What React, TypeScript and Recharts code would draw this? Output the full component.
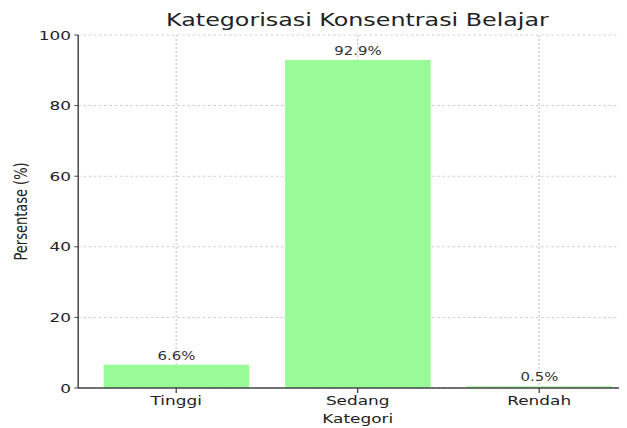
import React from 'react';
import { BarChart, Bar, XAxis, YAxis, CartesianGrid, LabelList } from 'recharts';

const categories = ['Tinggi', 'Sedang', 'Rendah'];
const percentages = [6.6, 92.9, 0.5];
const yTicks = [0, 20, 40, 60, 80, 100];

const data = categories.map((c, i) => ({ kategori: c, persen: percentages[i] }));

const FONT = '"DejaVu Sans", Verdana, sans-serif';
const SX = 1.3;
const TEXT = '#222';
const AXIS = '#444';

const YLabel = (props: any) => {
  const vb = props.viewBox || { x: 0, y: 27, width: 54, height: 353 };
  const cx = vb.x + 14.6;
  const cy = vb.y + vb.height / 2;
  return (
    <text
      x={cx}
      y={cy}
      transform={`rotate(-90 ${cx} ${cy})`}
      textAnchor="middle"
      fill={TEXT}
      fontSize={13}
      fontFamily={FONT}
    >
      Persentase (%)
    </text>
  );
};

export default function App() {
  return (
    <div style={{ width: 619, height: 420, overflow: 'hidden', position: 'relative' }}>
      <div
        style={{
          position: 'relative',
          width: 490,
          height: 420,
          transform: `scaleX(${SX})`,
          transformOrigin: '0 0',
        }}
      >
        <BarChart
          width={490}
          height={420}
          data={data}
          margin={{ top: 27, right: 6, left: 0, bottom: 0 }}
          barCategoryGap="10%"
        >
          <XAxis
            dataKey="kategori"
            height={40}
            padding={{ left: 5.6, right: 5.6 }}
            tick={{ fill: TEXT, fontSize: 13, fontFamily: FONT }}
            tickSize={5}
            tickMargin={3}
            axisLine={{ stroke: AXIS, strokeWidth: 1.3 }}
            tickLine={{ stroke: AXIS }}
            label={{ value: 'Kategori', position: 'insideBottom', offset: 5, fill: TEXT, fontSize: 13, fontFamily: FONT }}
          />
          <YAxis
            width={54}
            domain={[0, 100]}
            ticks={yTicks}
            interval={0}
            tick={{ fill: TEXT, fontSize: 13, fontFamily: FONT }}
            tickSize={3}
            tickMargin={2.5}
            axisLine={{ stroke: AXIS, strokeWidth: 1.1 }}
            tickLine={{ stroke: AXIS }}
            label={<YLabel />}
          />
          <Bar dataKey="persen" fill="#98FB98" isAnimationActive={false}>
            <LabelList
              dataKey="persen"
              position="top"
              offset={5}
              formatter={(v: any) => `${v}%`}
              fill="#333"
              fontSize={11.5}
              fontFamily={FONT}
            />
          </Bar>
          <CartesianGrid strokeDasharray="2 2" stroke="#cfcfcf" />
        </BarChart>
        <svg style={{ position: 'absolute', left: 0, top: 0 }} width={490} height={30}>
          <text x={268.8} y={18.3} textAnchor="middle" fill={TEXT} fontSize={18.3} fontFamily={FONT}>
            Kategorisasi Konsentrasi Belajar
          </text>
        </svg>
      </div>
    </div>
  );
}
